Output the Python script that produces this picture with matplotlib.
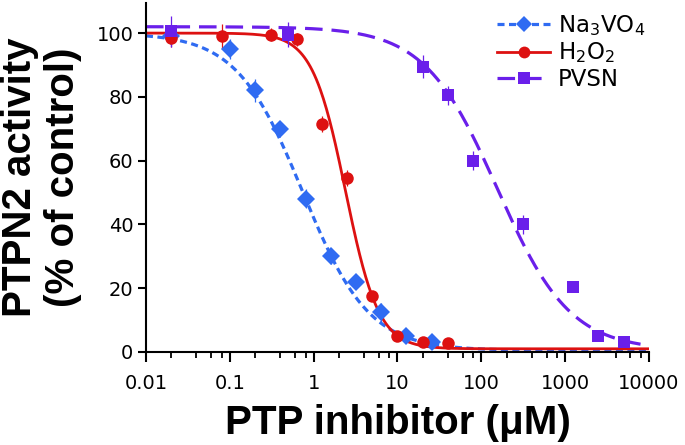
import numpy as np
import matplotlib
matplotlib.use("Agg")
import matplotlib.pyplot as plt
from matplotlib.lines import Line2D
from matplotlib.ticker import LogLocator, FixedLocator, NullFormatter

# ---- data (x in uM, activity in % of control) ----
na_x = [0.02, 0.1, 0.2, 0.4, 0.8, 1.6, 3.2, 6.4, 12.8, 25.6]
na_y = [99, 95, 82, 70, 48, 30, 22, 12.5, 5, 3]
na_err = [2.5, 3, 3.5, 2, 3, 2.5, 2, 3, 1, 1]

h2_x = [0.02, 0.08, 0.3125, 0.625, 1.25, 2.5, 5, 10, 20, 40]
h2_y = [98.5, 99, 99.5, 98, 71.5, 54.5, 17.5, 5, 3, 2.7]
h2_err = [3, 4, 2, 2, 2.5, 2.5, 1.5, 1, 1, 0.8]

pv_x = [0.02, 0.5, 20, 40, 80, 312.5, 1250, 2500, 5000]
pv_y = [100.5, 99.5, 89.5, 80.5, 60, 40, 20.5, 5, 3]
pv_err = [5, 4, 3.5, 3, 3, 3, 1, 1, 1.5]

# fitted dose-response parameters (bottom, top, IC50, hill)
na_fit = (0.5, 100, 0.74, 1.1)
h2_fit = (1.0, 100, 2.4, 2.2)
pv_fit = (0.5, 102, 155, 1.0)

labels = ['Na$_3$VO$_4$', 'H$_2$O$_2$', 'PVSN']
colors = ['#2F6BF2', '#DD1111', '#6A1FEA']


def logistic(x, bottom, top, ic50, hill):
    return bottom + (top - bottom) / (1 + (x / ic50) ** hill)


fig = plt.figure(figsize=(6.85, 4.45), dpi=100)
ax = fig.add_axes([0.2131, 0.209, 0.7343, 0.784])

xs = np.logspace(-2, 4, 500)

series = [
    (na_x, na_y, na_err, na_fit, 'D', 9, (0, (2.2, 1.4)), 2.3),
    (h2_x, h2_y, h2_err, h2_fit, 'o', 9, '-', 2.0),
    (pv_x, pv_y, pv_err, pv_fit, 's', 8.5, (0, (5.5, 2.8)), 2.3),
]

handles = []
for (x, y, e, fit, mk, ms, ls, lw), c, lab in zip(series, colors, labels):
    ax.plot(xs, logistic(xs, *fit), color=c, ls=ls, lw=lw, zorder=2)
    ax.errorbar(x, y, yerr=e, fmt=mk, ms=ms, color=c, ecolor=c,
                elinewidth=0.9, capsize=4.5, capthick=0.9, mew=0, zorder=3)
    handles.append(Line2D([], [], color=c, ls=ls, lw=lw, marker=mk, ms=ms - 0.5, mew=0))

ax.set_xscale('log')
ax.set_xlim(0.01, 10000)
ax.set_ylim(0, 109.4)

ax.xaxis.set_major_locator(FixedLocator([0.01, 0.1, 1, 10, 100, 1000, 10000]))
ax.set_xticklabels(['0.01', '0.1', '1', '10', '100', '1000', '10000'])
ax.xaxis.set_minor_locator(LogLocator(base=10, subs=[2, 4, 6, 8]))
ax.xaxis.set_minor_formatter(NullFormatter())
ax.set_yticks([0, 20, 40, 60, 80, 100])

for s in ['top', 'right']:
    ax.spines[s].set_visible(False)
for s in ['left', 'bottom']:
    ax.spines[s].set_linewidth(1.5)

ax.tick_params(axis='x', which='major', length=7.5, width=1.5, labelsize=14, pad=8)
ax.tick_params(axis='x', which='minor', length=4.5, width=1.3)
ax.tick_params(axis='y', which='major', length=6, width=1.5, labelsize=14, pad=3)

ax.set_xlabel('PTP inhibitor (\u03bcM)', fontsize=29, fontweight='bold',
              family='Liberation Sans', labelpad=8)
ax.set_ylabel('PTPN2 activity\n(% of control)', fontsize=29, fontweight='bold',
              family='Liberation Sans', linespacing=1.15)
ax.yaxis.set_label_coords(-0.128, 0.5)

ax.legend(handles, labels, loc='upper right', bbox_to_anchor=(1.02, 1.01),
          frameon=False, fontsize=16.5, handlelength=2.3, handletextpad=0.35,
          labelspacing=0.1, borderaxespad=0.2)

fig.savefig('out.png', dpi=100)
